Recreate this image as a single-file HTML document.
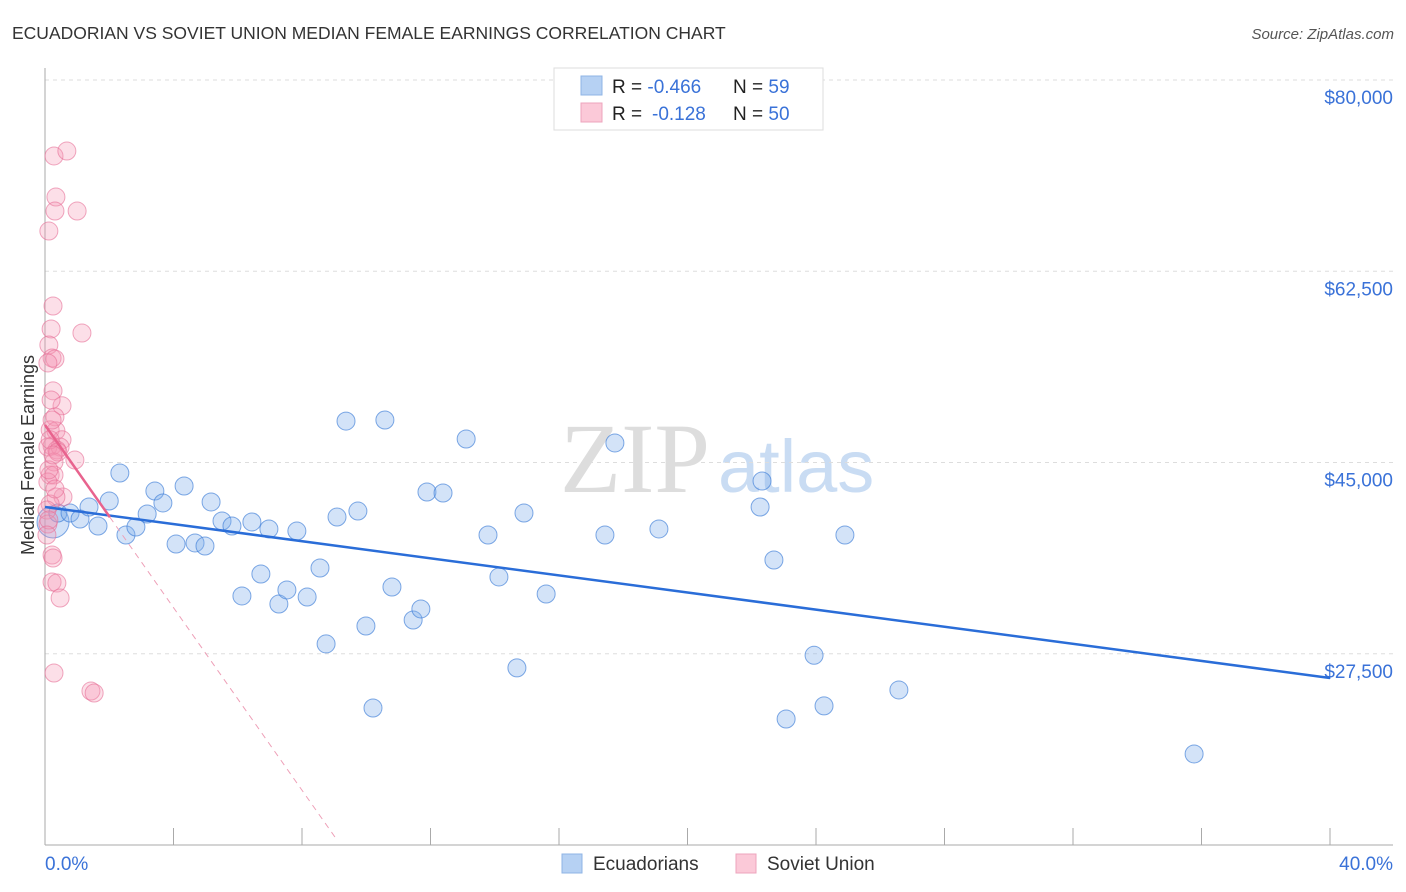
<!DOCTYPE html>
<html><head><meta charset="utf-8"><style>
body{margin:0;background:#fff;font-family:"Liberation Sans",sans-serif;}
svg{display:block}
</style></head><body>
<svg id="c" width="1406" height="892">
<text x="12" y="39" font-size="17.5" fill="#333">ECUADORIAN VS SOVIET UNION MEDIAN FEMALE EARNINGS CORRELATION CHART</text>
<text x="1394" y="39" font-size="15" fill="#555" font-style="italic" text-anchor="end">Source: ZipAtlas.com</text>
<text x="560" y="492" font-size="100" fill="#ddd" font-family="Liberation Serif,serif">ZIP</text>
<text x="718" y="492" font-size="74" fill="#c9dcf3">atlas</text>
<text transform="translate(34,455) rotate(-90)" font-size="18" fill="#333" text-anchor="middle">Median Female Earnings</text>
<g id="grid"></g><g id="marks"></g>
<g>
<rect x="554" y="68" width="269" height="62" fill="#fff" stroke="#ddd"/>
<rect x="581" y="76" width="21" height="19" fill="#b6d1f3" stroke="#8fb4e6"/>
<rect x="581" y="103" width="21" height="19" fill="#fbc9d8" stroke="#eea4bd"/>
<text x="612" y="93" font-size="19" fill="#222">R = <tspan fill="#3a72d8">-0.466</tspan><tspan x="733">N = </tspan><tspan fill="#3a72d8">59</tspan></text>
<text x="612" y="120" font-size="19" fill="#222">R = <tspan fill="#3a72d8" x="652">-0.128</tspan><tspan x="733">N = </tspan><tspan fill="#3a72d8">50</tspan></text>
</g>
<g>
<rect x="562" y="854" width="20" height="19" fill="#b6d1f3" stroke="#8fb4e6"/>
<text x="593" y="870" font-size="19" fill="#333">Ecuadorians</text>
<rect x="736" y="854" width="20" height="19" fill="#fbc9d8" stroke="#eea4bd"/>
<text x="767" y="870" font-size="19" fill="#333">Soviet Union</text>
</g>
<text x="45" y="870" font-size="19" fill="#3a72d8">0.0%</text>
<text x="1393" y="870" font-size="19" fill="#3a72d8" text-anchor="end">40.0%</text>
</svg>
<script>
const yTicks=[80000,62500,45000,27500];
const yTickLabels=["$80,000","$62,500","$45,000","$27,500"];
const xTicks=[0,4,8,12,16,20,24,28,32,36,40];
const blueX=[0.25,0.40,0.78,1.09,1.37,1.65,2.00,2.33,2.52,2.83,3.18,3.42,3.67,4.08,4.33,4.67,4.98,5.17,5.51,5.82,6.13,6.44,6.72,6.97,7.28,7.53,7.84,8.16,8.56,8.75,9.09,9.37,9.74,9.99,10.21,10.58,10.80,11.46,11.70,11.89,12.39,13.11,13.79,14.13,14.69,14.91,15.60,17.43,17.74,19.11,22.26,22.32,22.69,23.07,23.94,24.25,24.90,26.58,35.77];
const blueY=[39560,40380,40380,39830,40930,39190,41480,44040,38370,39100,40290,42390,41300,37540,42850,37640,37360,41390,39650,39190,32790,39560,34800,38920,32050,33340,38730,32690,35350,28400,40010,48790,40560,30040,22540,48890,33610,30590,31600,42300,42210,47150,38370,34530,26210,40380,32970,38370,46790,38920,40930,43310,36080,21530,27360,22730,38370,24190,18330];
const pinkX=[.28,.68,.34,.31,1.0,.12,.25,.19,1.15,.12,.22,.31,.09,.25,.53,.31,.16,.34,.53,.22,.09,.47,.37,.93,.28,.16,.28,.09,.56,.34,.16,.06,.09,.22,.25,.22,.37,.47,.28,1.43,1.53,.16,.22,.12,.31,.12,.40,.19,.25,.06];
const pinkY=[73050,73500,69290,68010,68010,66180,59320,57220,56850,55750,54560,54470,54110,51560,50190,49180,47990,47900,47080,46510,46420,46420,46150,45230,45050,43860,43860,43220,41850,41850,41200,40650,39370,36540,36260,34070,33970,32600,25740,24090,23910,47080,48890,44330,42580,39740,45960,50720,45690,38370];
const blueTrend=[40930,25280];
const pinkTrend=[48430,-4177];
const X=v=>45+v*32.125, Y=v=>80+(80000-v)/91.5;
const NS="http://www.w3.org/2000/svg";
function mk(t,a,p){const e=document.createElementNS(NS,t);for(const k in a)e.setAttribute(k,a[k]);p.appendChild(e);return e;}
const g=document.getElementById('grid'), m=document.getElementById('marks');
yTicks.forEach((t,i)=>{
 const l=mk('line',{x1:45,x2:1393,y1:Y(t),y2:Y(t),stroke:'#ddd','stroke-dasharray':'4,4'},g);
 
 
 const tx=mk('text',{x:1393,y:Y(t)+24,'font-size':19,fill:'#3a72d8','text-anchor':'end'},g);
 tx.textContent=yTickLabels[i];
 
 
});
mk('line',{x1:45,x2:45,y1:68,y2:845,stroke:'#aaa'},g);
mk('line',{x1:45,x2:1393,y1:845,y2:845,stroke:'#aaa'},g);
xTicks.forEach(t=>{const l=mk('line',{x1:X(t),x2:X(t),y1:828,y2:845,stroke:'#aaa'},g);
 
 });
blueX.forEach((x,i)=>{const c=mk('circle',{cx:X(x),cy:Y(blueY[i]),r:i==0?16:9,fill:'rgba(130,175,235,0.35)',stroke:'rgba(60,125,215,0.65)','stroke-width':1},m);
 
 });
pinkX.forEach((x,i)=>{const c=mk('circle',{cx:X(x),cy:Y(pinkY[i]),r:9,fill:'rgba(245,150,180,0.3)',stroke:'rgba(230,110,150,0.6)','stroke-width':1},m);
 
 });
const bl=mk('line',{x1:X(0),y1:Y(blueTrend[0]),x2:X(40),y2:Y(blueTrend[1]),stroke:'#2a6dd8','stroke-width':2.5},m);


const pe=2.02, pd=9.09;
const ps=mk('line',{x1:X(0),y1:Y(pinkTrend[0]),x2:X(pe),y2:Y(pinkTrend[0]+pinkTrend[1]*pe),stroke:'#e8638e','stroke-width':2.5},m);


const pdl=mk('line',{x1:X(pe),y1:Y(pinkTrend[0]+pinkTrend[1]*pe),x2:X(pd),y2:Y(pinkTrend[0]+pinkTrend[1]*pd),stroke:'#eea0b8','stroke-width':1,'stroke-dasharray':'6,5'},m);


</script>
</body></html>
